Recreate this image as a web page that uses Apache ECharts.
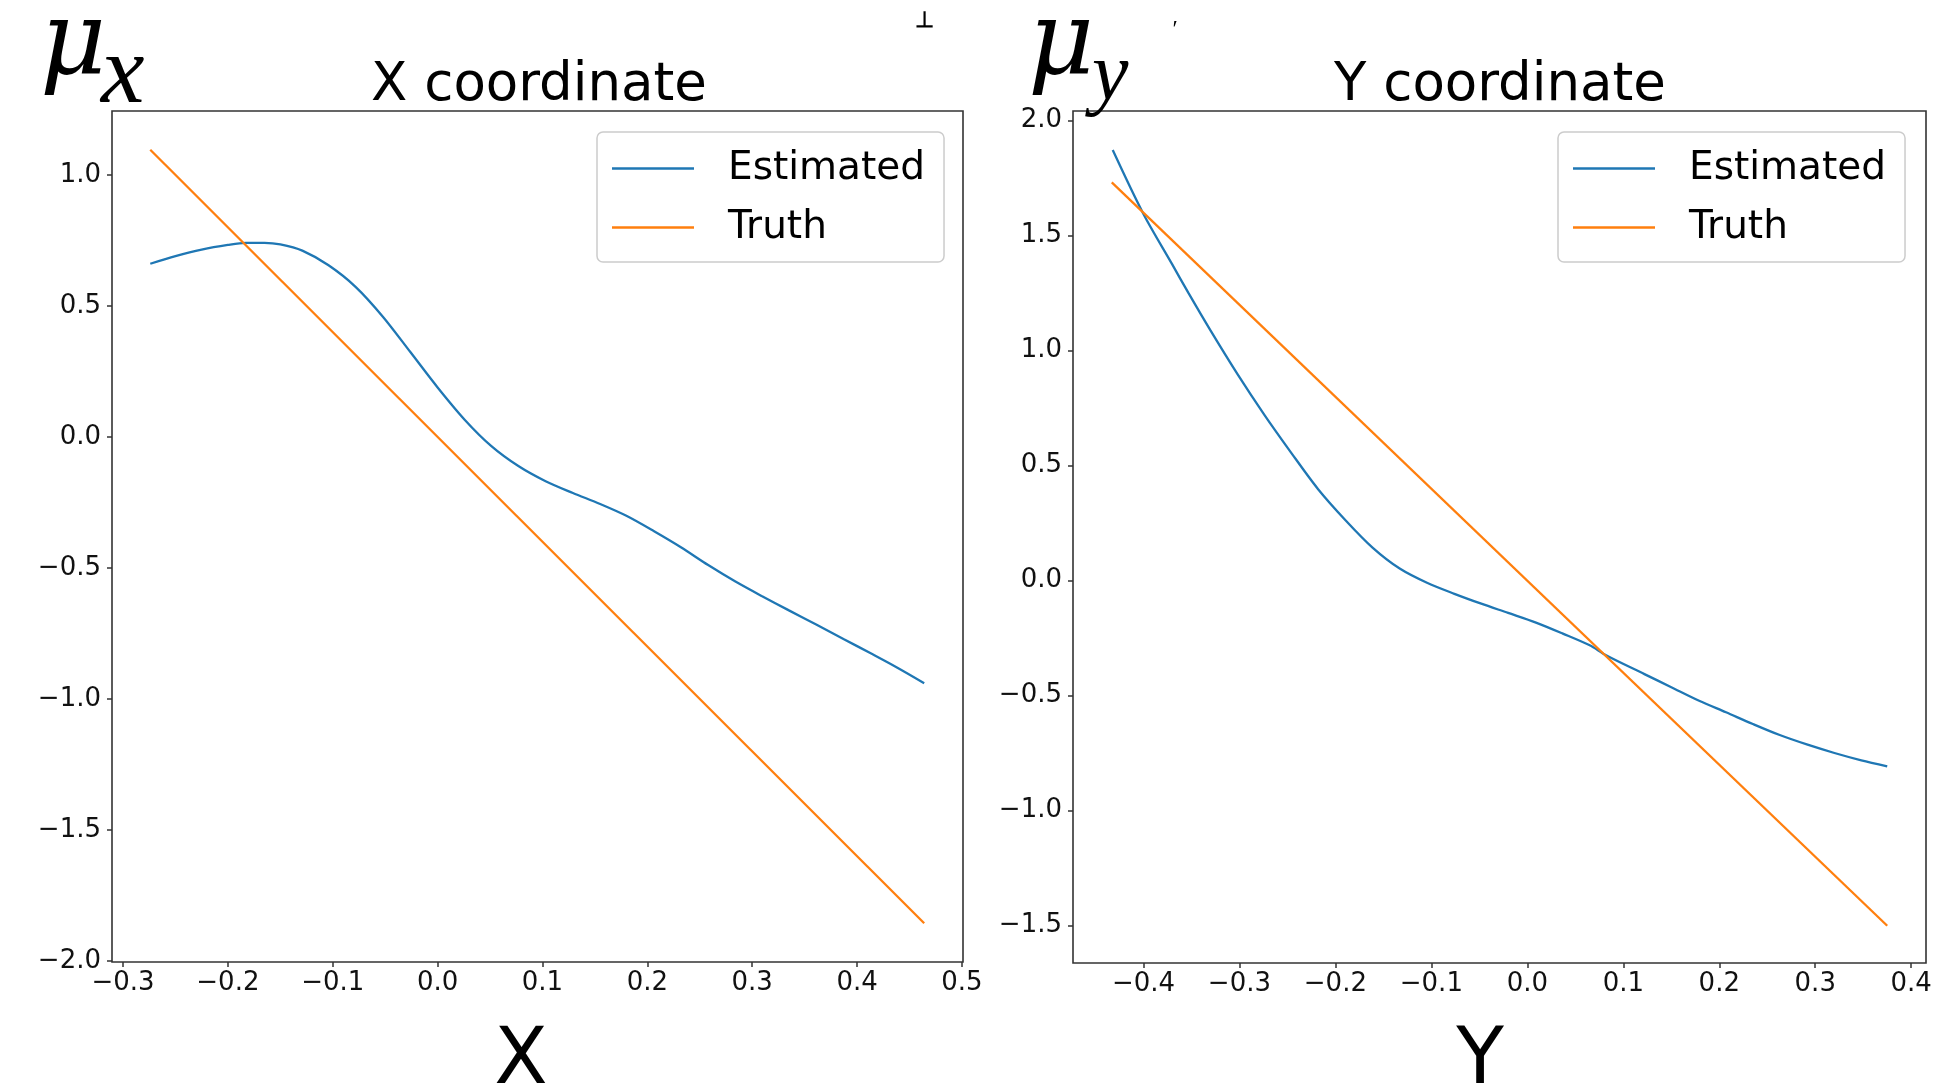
<!DOCTYPE html>
<html>
<head>
<meta charset="utf-8">
<script src="https://cdn.jsdelivr.net/npm/echarts@6/dist/echarts.min.js"></script>
<style>
html,body{margin:0;padding:0;background:#fff;}
#chart{width:1957px;height:1092px;}
</style>
</head>
<body>
<div id="chart"></div>
<script>
// ---- Data ----
const seriesNames = ['Estimated', 'Truth'];
const panelTitles = ['X coordinate', 'Y coordinate'];
const axisNames = ['X', 'Y'];

// Left panel (X coordinate)
const leftEstX = [-0.274, -0.250, -0.225, -0.200, -0.183, -0.165, -0.150, -0.129, -0.104, -0.078, -0.052, -0.026, 0.000, 0.026, 0.051, 0.077, 0.103, 0.129, 0.155, 0.180, 0.206, 0.232, 0.258, 0.284, 0.309, 0.335, 0.361, 0.387, 0.413, 0.438, 0.464];
const leftEstY = [0.661, 0.690, 0.715, 0.733, 0.741, 0.741, 0.735, 0.711, 0.655, 0.572, 0.458, 0.324, 0.189, 0.065, -0.034, -0.111, -0.169, -0.214, -0.256, -0.301, -0.359, -0.421, -0.489, -0.552, -0.607, -0.662, -0.716, -0.771, -0.826, -0.880, -0.940];
const leftTruthX = [-0.274, 0.464];
const leftTruthY = [1.096, -1.856];

// Right panel (Y coordinate)
const rightEstX = [-0.432, -0.400, -0.370, -0.353, -0.330, -0.302, -0.274, -0.246, -0.218, -0.189, -0.161, -0.133, -0.104, -0.076, -0.048, -0.020, 0.009, 0.037, 0.065, 0.082, 0.122, 0.150, 0.179, 0.207, 0.235, 0.263, 0.292, 0.320, 0.348, 0.375];
const rightEstY = [1.872, 1.594, 1.375, 1.250, 1.087, 0.898, 0.721, 0.556, 0.398, 0.261, 0.143, 0.053, -0.010, -0.057, -0.100, -0.140, -0.182, -0.230, -0.281, -0.324, -0.406, -0.463, -0.522, -0.572, -0.623, -0.671, -0.713, -0.749, -0.781, -0.807];
const rightTruthX = [-0.433, 0.375];
const rightTruthY = [1.732, -1.500];

// Tick labels
const leftXTicks = [-0.3, -0.2, -0.1, 0.0, 0.1, 0.2, 0.3, 0.4, 0.5];
const leftYTicks = [-2.0, -1.5, -1.0, -0.5, 0.0, 0.5, 1.0];
const rightXTicks = [-0.4, -0.3, -0.2, -0.1, 0.0, 0.1, 0.2, 0.3, 0.4];
const rightYTicks = [-1.5, -1.0, -0.5, 0.0, 0.5, 1.0, 1.5, 2.0];

// Axis ranges
const leftXRange = [-0.3105, 0.501];
const leftYRange = [-2.004, 1.244];
const rightXRange = [-0.4734, 0.4154];
const rightYRange = [-1.662, 2.042];

// ---- Build ----
const zip = (xs, ys) => xs.map((x, i) => [x, ys[i]]);
const fmt = v => { const s = Number(v).toFixed(1); return s === '-0.0' ? '0.0' : s.replace('-', '\u2212'); };
const BLUE = '#1f77b4', ORANGE = '#ff7f0e', FRAME = '#333';
const FONT = 'DejaVu Sans';
const SERIF = 'Liberation Serif';
const MUFONT = 'DejaVu Serif';

function xAxis(grid, range, ticks) {
  return {
    type: 'value', gridIndex: grid, min: range[0], max: range[1], position: 'bottom',
    axisLine: { show: false, onZero: false },
    axisTick: { show: true, inside: false, length: 5, lineStyle: { color: FRAME, width: 1.5 }, customValues: ticks },
    axisLabel: { show: true, margin: 8, color: '#111', fontFamily: FONT, fontSize: 26, customValues: ticks, formatter: fmt },
    splitLine: { show: false }
  };
}
function yAxis(grid, range, ticks) {
  return {
    type: 'value', gridIndex: grid, min: range[0], max: range[1], position: 'left',
    axisLine: { show: false, onZero: false },
    axisTick: { show: true, inside: false, length: 5, lineStyle: { color: FRAME, width: 1.5 }, customValues: ticks },
    axisLabel: { show: true, margin: 11, color: '#111', fontFamily: FONT, fontSize: 26, customValues: ticks, formatter: fmt },
    splitLine: { show: false }
  };
}
function legend(left) {
  return {
    data: seriesNames, left: left, top: 132, orient: 'vertical',
    icon: 'rect', itemWidth: 82, itemHeight: 2.5, itemGap: 20,
    padding: [17, 19, 15, 15],
    backgroundColor: 'rgba(255,255,255,0.8)', borderColor: '#cccccc', borderWidth: 1.5, borderRadius: 6,
    textStyle: { fontFamily: FONT, fontSize: 39, color: '#000', lineHeight: 39, padding: [0, 0, 0, 29] },
    selectedMode: false
  };
}
function line(name, data, color, idx, smooth) {
  return {
    name: name, type: 'line', data: data, xAxisIndex: idx, yAxisIndex: idx,
    showSymbol: false, symbol: 'none', smooth: smooth, animation: false,
    lineStyle: { color: color, width: 2.3 }, itemStyle: { color: color }
  };
}
function txt(x, y, text, font, size, extra) {
  return { type: 'text', x: x, y: y, style: Object.assign({ text: text, fontFamily: font, fontSize: size, fill: '#000', align: 'center', verticalAlign: 'middle' }, extra || {}) };
}

const chart = echarts.init(document.getElementById('chart'), null, { renderer: 'canvas' });
chart.setOption({
  animation: false,
  backgroundColor: '#fff',
  grid: [
    { left: 112, top: 111, width: 851, height: 851, show: true, borderColor: FRAME, borderWidth: 1.6, backgroundColor: 'transparent' },
    { left: 1073, top: 111, width: 853, height: 852, show: true, borderColor: FRAME, borderWidth: 1.6, backgroundColor: 'transparent' }
  ],
  xAxis: [xAxis(0, leftXRange, leftXTicks), xAxis(1, rightXRange, rightXTicks)],
  yAxis: [yAxis(0, leftYRange, leftYTicks), yAxis(1, rightYRange, rightYTicks)],
  legend: [legend(597), legend(1558)],
  series: [
    line(seriesNames[0], zip(leftEstX, leftEstY), BLUE, 0, 0.3),
    line(seriesNames[1], zip(leftTruthX, leftTruthY), ORANGE, 0, false),
    line(seriesNames[0], zip(rightEstX, rightEstY), BLUE, 1, 0.3),
    line(seriesNames[1], zip(rightTruthX, rightTruthY), ORANGE, 1, false)
  ],
  graphic: [
    txt(539, 86, panelTitles[0], FONT, 53),
    txt(1500, 86, panelTitles[1], FONT, 53),
    txt(521, 1063, axisNames[0], FONT, 78),
    txt(1480, 1063, axisNames[1], FONT, 78),
    txt(40, 98, '\u03bc', MUFONT, 102, { fontStyle: 'italic', align: 'left', verticalAlign: 'bottom' }),
    txt(101, 125, 'x', SERIF, 98, { fontStyle: 'italic', align: 'left', verticalAlign: 'bottom' }),
    txt(1028, 98, '\u03bc', MUFONT, 102, { fontStyle: 'italic', align: 'left', verticalAlign: 'bottom' }),
    txt(1092, 118, 'y', SERIF, 82, { fontStyle: 'italic', align: 'left', verticalAlign: 'bottom' }),
    txt(1175, 30, '\u2032', SERIF, 24),
    txt(924, 21, '\u22a5', SERIF, 22, { fontWeight: 'bold' })
  ]
});
</script>
</body>
</html>
